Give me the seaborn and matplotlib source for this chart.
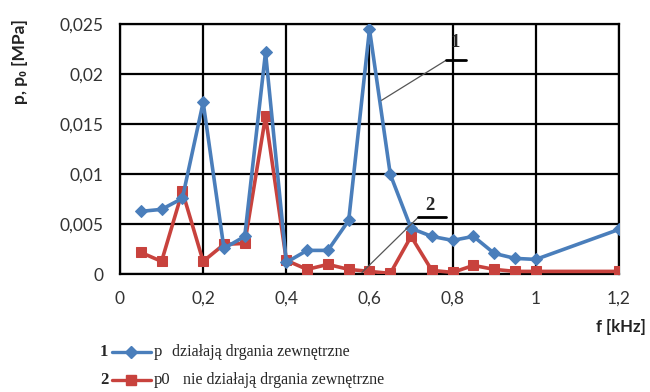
import matplotlib.pyplot as plt
import pandas as pd
import seaborn as sns
from matplotlib.lines import Line2D
from matplotlib.ticker import FuncFormatter

# data (f in kHz, pressures in MPa)
freq = [0.05, 0.10, 0.15, 0.20, 0.25, 0.30, 0.35, 0.40, 0.45, 0.50, 0.55,
        0.60, 0.65, 0.70, 0.75, 0.80, 0.85, 0.90, 0.95, 1.00, 1.20]
p = [0.0063, 0.0065, 0.0076, 0.0172, 0.0026, 0.0038, 0.0222, 0.0012, 0.0024, 0.0024, 0.0054,
     0.0245, 0.0100, 0.0046, 0.0038, 0.0034, 0.0038, 0.0021, 0.0016, 0.0015, 0.0045]
p0 = [0.0022, 0.0013, 0.0083, 0.0013, 0.0030, 0.0031, 0.0158, 0.0014, 0.0005, 0.0010, 0.0005,
      0.0003, 0.0001, 0.0038, 0.0004, 0.0002, 0.0009, 0.0005, 0.0003, 0.0003, 0.0003]
x_ticks = [0, 0.2, 0.4, 0.6, 0.8, 1.0, 1.2]
y_ticks = [0, 0.005, 0.01, 0.015, 0.02, 0.025]

df = pd.DataFrame({"f": freq, "p": p, "p0": p0})

BLUE = "#4a7ebb"
RED = "#c8423d"

sns.set_style("white")
plt.rcParams["font.family"] = ["Lato", "DejaVu Sans"]

fig = plt.figure(figsize=(6.5, 3.92), dpi=100)
ax = fig.add_axes([0.1846, 0.300, 0.7677, 0.638])

sns.lineplot(data=df, x="f", y="p", ax=ax, color=BLUE, lw=2.6, marker="D",
             markersize=6.5, markeredgecolor=BLUE, zorder=4)
sns.lineplot(data=df, x="f", y="p0", ax=ax, color=RED, lw=2.6, marker="s",
             markersize=6.5, markeredgecolor=RED, zorder=3)

ax.set_xlim(0, 1.2)
ax.set_ylim(0, 0.025)
ax.set_xticks(x_ticks)
ax.set_yticks(y_ticks)
fmt = FuncFormatter(lambda v, _: f"{v:g}".replace(".", ","))
ax.xaxis.set_major_formatter(fmt)
ax.yaxis.set_major_formatter(fmt)
ax.grid(True, color="black", lw=1.6)
ax.set_axisbelow(True)
for s in ax.spines.values():
    s.set_color("black")
    s.set_linewidth(1.6)
ax.tick_params(axis="both", length=4, color="#999999", labelsize=12.5,
               labelcolor="#333333", pad=8)

ax.set_xlabel("")
ax.set_ylabel("p, p₀ [MPa]", fontsize=12.5, fontweight="bold", color="#222222")
ax.yaxis.set_label_coords(-0.185, 0.85)
fig.text(0.955, 0.165, "f [kHz]", fontsize=12, fontweight="bold", color="#222222",
         ha="center", va="center")

# leader-line callouts
ax.plot([0.629, 0.784], [0.0174, 0.0214], color="#555555", lw=0.9, zorder=5)
ax.plot([0.784, 0.832], [0.0214, 0.0214], color="black", lw=2, zorder=5)
ax.text(0.806, 0.0223, "1", fontsize=13.5, fontweight="bold", family="Liberation Serif",
        ha="center", va="bottom")
ax.plot([0.582, 0.717], [0.0002, 0.0057], color="#555555", lw=0.9, zorder=5)
ax.plot([0.717, 0.784], [0.0057, 0.0057], color="black", lw=2, zorder=5)
ax.text(0.745, 0.0060, "2", fontsize=13.5, fontweight="bold", family="Liberation Serif",
        ha="center", va="bottom")

# legend drawn below the plot
legend_rows = [
    (0.102, "1", BLUE, "D", "p", "działają drgania zewnętrzne", 0.265),
    (0.030, "2", RED, "s", "p0", "nie działają drgania zewnętrzne", 0.282),
]
for y, num, col, mk, name, desc, xd in legend_rows:
    fig.text(0.160, y, num, fontsize=12, fontweight="bold", family="Liberation Serif",
             ha="center", va="center")
    fig.add_artist(Line2D([0.172, 0.232], [y, y], transform=fig.transFigure, color=col,
                          lw=2.4))
    fig.add_artist(Line2D([0.202], [y], transform=fig.transFigure, color=col, marker=mk,
                          markersize=6.5, lw=0))
    fig.text(0.237, y, name, fontsize=12, family="Liberation Serif", ha="left", va="center")
    fig.text(xd, y, desc, fontsize=11.5, family="Liberation Serif", ha="left", va="center")

fig.savefig("out.png", dpi=100)
